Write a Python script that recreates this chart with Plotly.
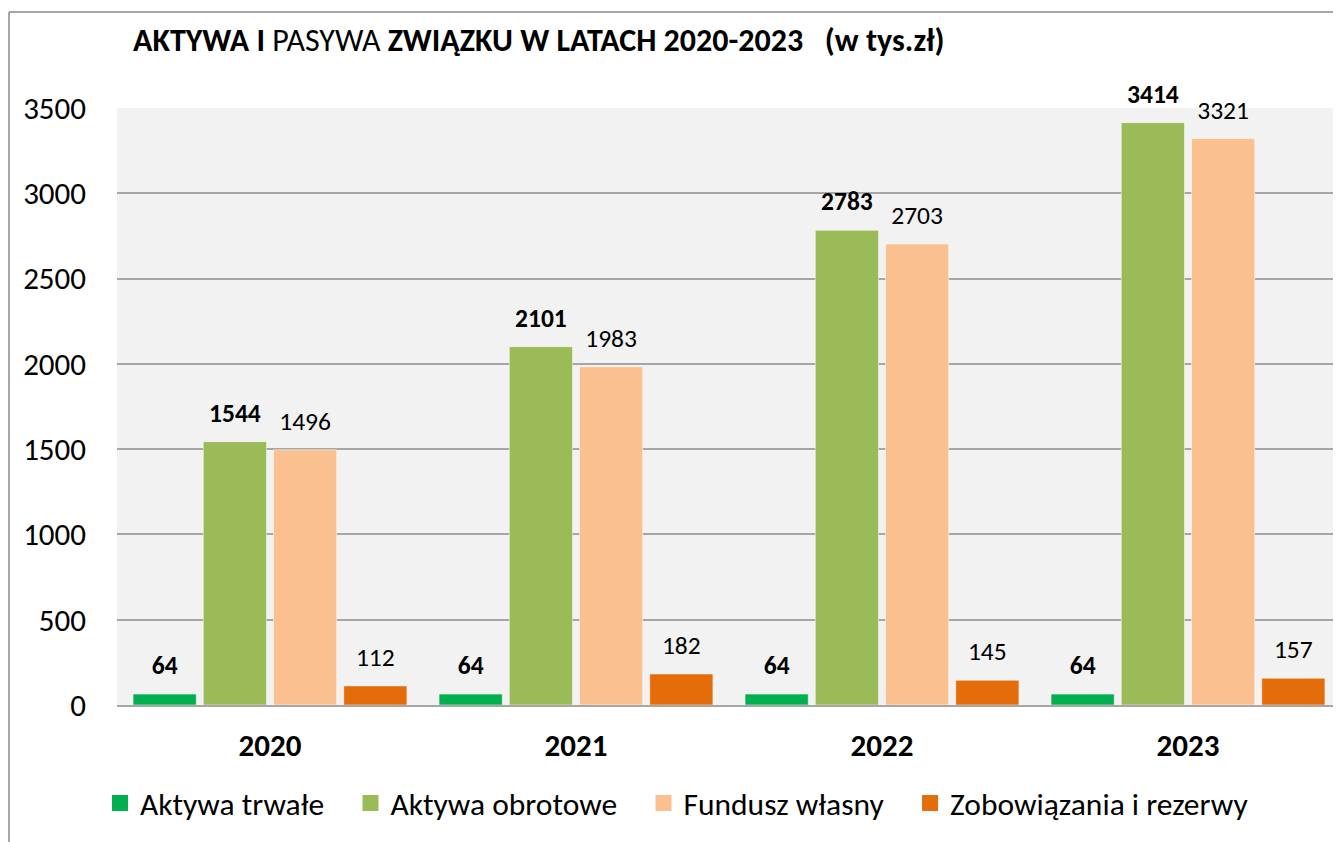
import plotly.graph_objects as go

years = ["2020", "2021", "2022", "2023"]
series_names = ["Aktywa trwałe", "Aktywa obrotowe", "Fundusz własny", "Zobowiązania i rezerwy"]
aktywa_trwale = [64, 64, 64, 64]
aktywa_obrotowe = [1544, 2101, 2783, 3414]
fundusz_wlasny = [1496, 1983, 2703, 3321]
zobowiazania = [112, 182, 145, 157]
series_values = [aktywa_trwale, aktywa_obrotowe, fundusz_wlasny, zobowiazania]
colors = ["#00B050", "#9BBB59", "#FAC090", "#E46C0A"]
bold_labels = [True, True, False, False]
y_ticks = [0, 500, 1000, 1500, 2000, 2500, 3000, 3500]

FONT = "Calibri, Carlito, Lato, sans-serif"
OFF = 8  # page body margin
W, H = 1341, 842
# plot area in page coordinates: x 117..1341, y 108..705
ML, MT = 117 - OFF, 108 - OFF
MR = W - (1341 - OFF)
MB = H - (705 - OFF)
PW, PH = W - ML - MR, H - MT - MB


def px_x(p):
    return (p - OFF - ML) / PW


def px_y(p):
    return (H - MB - (p - OFF)) / PH


fig = go.Figure()
for name, vals, col in zip(series_names, series_values, colors):
    fig.add_trace(go.Bar(
        x=years, y=vals, name=name, showlegend=False,
        marker=dict(color=col, line=dict(color="rgba(255,255,255,0.5)", width=1)),
        hoverinfo="skip",
    ))

for name, vals, bold in zip(series_names, series_values, bold_labels):
    txt = [f"<b>{v}</b>" if bold else str(v) for v in vals]
    fig.add_trace(go.Scatter(
        x=years, y=vals, mode="markers+text", text=txt,
        textposition="top center",
        textfont=dict(family=FONT, size=25.5, color="#000000"),
        marker=dict(size=20, opacity=0),
        showlegend=False, cliponaxis=False, hoverinfo="skip",
    ))

# legend entries (separate hidden subplot so they do not affect grouping)
PAD = "\u00a0\u00a0\u00a0"
for name, col in zip(series_names, colors):
    fig.add_trace(go.Scatter(
        x=[None], y=[None], mode="markers", name=name + PAD,
        marker=dict(symbol="square", size=18, color=col),
        xaxis="x2", yaxis="y2", hoverinfo="skip",
    ))

shapes = [
    dict(type="line", xref="paper", yref="paper", x0=px_x(9), x1=px_x(W + 20),
         y0=px_y(12), y1=px_y(12), line=dict(color="#A6A6A6", width=2)),
    dict(type="line", xref="paper", yref="paper", x0=px_x(9), x1=px_x(9),
         y0=px_y(12), y1=px_y(H + 20), line=dict(color="#A6A6A6", width=2)),
]

fig.update_layout(
    width=W, height=H,
    margin=dict(l=ML, r=MR, t=MT, b=MB, pad=0),
    paper_bgcolor="#FFFFFF",
    plot_bgcolor="#F2F2F2",
    barmode="group",
    bargap=0.082,
    bargroupgap=0.1,
    scattermode="group",
    scattergap=0.082,
    font=dict(family=FONT, color="#000000"),
    title=dict(
        text="<b>AKTYWA I</b> PASYWA <b>ZWIĄZKU W LATACH 2020-2023\u00a0\u00a0\u00a0(w tys.zł)</b>",
        x=(133 - OFF) / W, xanchor="left", xref="container",
        y=1 - (40 - OFF) / H, yanchor="middle", yref="container",
        font=dict(family=FONT, size=32, color="#000000"),
    ),
    xaxis=dict(
        type="category", showgrid=False, showline=True, linecolor="#A6A6A6", linewidth=2,
        tickfont=dict(family=FONT, size=31, color="#000000", weight="bold"),
        ticks="", ticklabelstandoff=12, fixedrange=True,
    ),
    yaxis=dict(
        range=[0, 3500], tickvals=y_ticks, showgrid=True, gridcolor="#A6A6A6", gridwidth=1.5,
        zeroline=False, showline=False,
        tickfont=dict(family=FONT, size=31, color="#000000"),
        ticks="", ticklabelstandoff=30, fixedrange=True,
    ),
    xaxis2=dict(overlaying="x", visible=False, fixedrange=True),
    yaxis2=dict(overlaying="y", visible=False, fixedrange=True),
    legend=dict(
        orientation="h", x=px_x(100), xanchor="left", y=px_y(803), yanchor="middle",
        font=dict(family=FONT, size=31.5, color="#000000"),
        bgcolor="rgba(0,0,0,0)", itemclick=False, itemdoubleclick=False,
        tracegroupgap=0,
    ),
    shapes=shapes,
    showlegend=True,
)

fig.write_html("out.html")
